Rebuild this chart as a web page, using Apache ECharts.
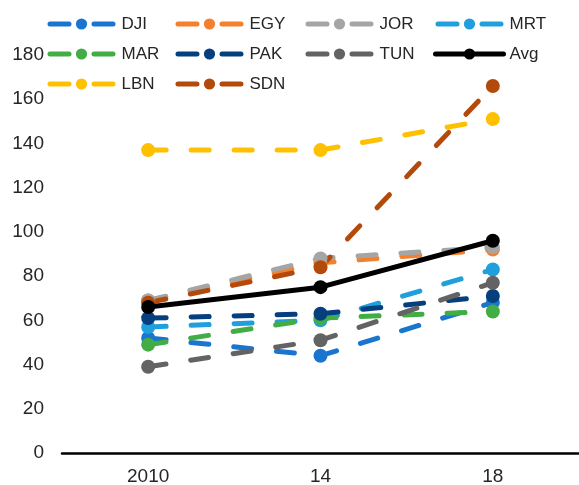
<!DOCTYPE html>
<html>
<head>
<meta charset="utf-8">
<script src="https://cdn.jsdelivr.net/npm/echarts@6/dist/echarts.min.js"></script>
<style>
html,body{margin:0;padding:0;background:#fff;}
#c{width:579px;height:485px;}
</style>
</head>
<body>
<div id="c"></div>
<script>
var categories = ['2010', '14', '18'];
var yTicks = [0, 20, 40, 60, 80, 100, 120, 140, 160, 180];

var DJI = [52, 44, 68];
var EGY = [69, 86, 92];
var JOR = [69, 88, 93];
var MRT = [57, 60, 83];
var MAR = [49, 61, 64];
var PAK = [61, 63, 71];
var TUN = [39, 51, 77];
var Avg = [66, 75, 96];
var LBN = [137, 137, 151];
var SDN = [68, 84, 166];

var seriesDefs = [
  {name: 'DJI', data: DJI, color: '#1a75cf', dashed: true},
  {name: 'EGY', data: EGY, color: '#f47f2c', dashed: true},
  {name: 'JOR', data: JOR, color: '#a5a5a5', dashed: true},
  {name: 'MRT', data: MRT, color: '#1fa0dc', dashed: true},
  {name: 'MAR', data: MAR, color: '#42ad45', dashed: true},
  {name: 'PAK', data: PAK, color: '#063f7e', dashed: true},
  {name: 'TUN', data: TUN, color: '#636363', dashed: true},
  {name: 'LBN', data: LBN, color: '#ffc000', dashed: true},
  {name: 'SDN', data: SDN, color: '#b34a0b', dashed: true},
  {name: 'Avg', data: Avg, color: '#000000', dashed: false}
];
var colorOf = {};
seriesDefs.forEach(function (s) { colorOf[s.name] = s; });

var legendOrder = ['DJI','EGY','JOR','MRT','MAR','PAK','TUN','Avg','LBN','SDN'];
var colX = [45, 173, 303, 433];
var rowY = [22, 52, 82];
var FONT = 'Liberation Sans, Arial, sans-serif';

var legends = legendOrder.map(function (n, i) {
  var col = i % 4, row = Math.floor(i / 4);
  var s = colorOf[n];
  return {
    data: [n],
    left: colX[col],
    top: rowY[row] - 8,
    padding: 0,
    itemWidth: 68,
    itemHeight: 14,
    itemGap: 0,
    lineStyle: {
      width: 5,
      cap: 'round',
      type: s.dashed ? [19, 25] : 'solid',
      dashOffset: -2.5
    },
    textStyle: {fontFamily: FONT, fontSize: 17, color: '#262626', padding: [0, 0, 0, 1], lineHeight: 20},
    selectedMode: false
  };
});

var series = seriesDefs.map(function (s) {
  return {
    name: s.name,
    type: 'line',
    data: s.data,
    symbol: 'circle',
    symbolSize: 14,
    showSymbol: true,
    color: s.color,
    itemStyle: {color: s.color},
    lineStyle: {
      color: s.color,
      width: 5,
      type: s.dashed ? [18, 25] : 'solid',
      cap: 'round'
    },
    z: s.name === 'Avg' ? 3 : 2,
    animation: false
  };
});

var chart = echarts.init(document.getElementById('c'), null, {renderer: 'canvas'});
chart.setOption({
  animation: false,
  backgroundColor: '#fff',
  legend: legends,
  grid: {left: 62, right: 0, top: 55, bottom: 32, containLabel: false, outerBoundsMode: 'none'},
  xAxis: {
    type: 'category',
    data: categories,
    boundaryGap: true,
    axisLine: {lineStyle: {color: '#000', width: 2.5}},
    axisTick: {show: false},
    axisLabel: {fontFamily: FONT, fontSize: 19, color: '#262626', margin: 14}
  },
  yAxis: {
    type: 'value',
    min: yTicks[0],
    max: yTicks[yTicks.length - 1],
    interval: 20,
    axisLine: {show: false},
    axisTick: {show: false},
    splitLine: {show: false},
    axisLabel: {fontFamily: FONT, fontSize: 19, color: '#262626', margin: 18}
  },
  series: series
});
</script>
</body>
</html>
